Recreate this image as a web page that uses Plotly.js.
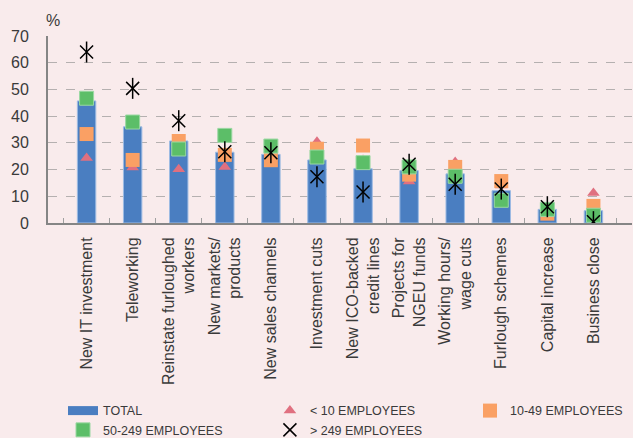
<!DOCTYPE html>
<html>
<head>
<meta charset="utf-8">
<script src="https://cdn.plot.ly/plotly-3.0.1.min.js"></script>
<style>html,body{margin:0;padding:0;background:#f9ebec;}#chart{width:633px;height:438px;}</style>
</head>
<body>
<div id="chart"></div>
<script>
const categories = [
  "New IT investment", "Teleworking", "Reinstate furloughed<br>workers", "New markets/<br>products",
  "New sales channels", "Investment cuts", "New ICO-backed<br>credit lines", "Projects for<br>NGEU funds",
  "Working hours/<br>wage cuts", "Furlough schemes", "Capital increase", "Business close"
];
const total      = [45.7, 36.0, 30.7, 26.5, 25.7, 23.6, 20.3, 19.6, 18.4, 12.1, 5.1, 4.6];
const lt10       = [24.3, 20.8, 20.1, 21.0, 22.5, 30.4, 23.6, 15.5, 22.8, 14.0, 4.0, 11.2];
const e10_49     = [33.3, 23.6, 30.7, 25.5, 23.5, 27.8, 29.0, 18.1, 21.0, 15.7, 3.5, 6.4];
const e50_249    = [46.7, 37.8, 27.7, 32.8, 28.8, 24.7, 22.6, 21.0, 17.5, 8.5, 5.1, 2.9];
const gt249      = [64.0, 50.4, 38.3, 26.7, 26.3, 17.3, 11.6, 22.0, 14.5, 12.7, 6.1, 0.5];
const yTicks     = [0, 10, 20, 30, 40, 50, 60, 70];

const font = "Liberation Sans, Arial, sans-serif";
const legendFont = {family: "Liberation Sans, Arial, sans-serif", size: 12.5, color: '#3a3a3a'};

const traces = [
  {type: 'bar', x: categories, y: total, name: 'TOTAL', legendgroup: 'total', showlegend: false,
   width: 0.4, marker: {color: '#4a7ec1', line: {color: '#9dbbe3', width: 1}}, hoverinfo: 'y'},
  {type: 'scatter', mode: 'lines', x: [categories[0]], y: [null], name: 'TOTAL', legendgroup: 'total',
   legend: 'legend', line: {color: '#4a7ec1', width: 9}, hoverinfo: 'skip'},
  {type: 'scatter', mode: 'markers', x: categories, y: lt10, name: '< 10 EMPLOYEES', legend: 'legend2',
   marker: {symbol: 'triangle-up', size: 11, color: '#e07080'}},
  {type: 'scatter', mode: 'markers', x: categories, y: e10_49, name: '10-49 EMPLOYEES', legend: 'legend3',
   marker: {symbol: 'square', size: 14, color: '#faa064'}},
  {type: 'scatter', mode: 'markers', x: categories, y: e50_249, name: '50-249 EMPLOYEES', legend: 'legend',
   marker: {symbol: 'square', size: 14, color: '#5cbe68', line: {color: '#9ad8a2', width: 1}}},
  {type: 'scatter', mode: 'markers', x: categories, y: gt249, name: '> 249 EMPLOYEES', legendgroup: 'big',
   legend: 'legend2', marker: {symbol: 'x-thin-open', size: 13, color: '#000', line: {color: '#000', width: 1.5}}},
  {type: 'scatter', mode: 'markers', x: categories, y: gt249, name: '> 249 EMPLOYEES', legendgroup: 'big', showlegend: false,
   marker: {symbol: 'line-ns-open', size: 15, color: '#000', line: {color: '#000', width: 1.5}}}
];

function legendAt(x) {
  return {orientation: 'v', x: x, xanchor: 'left', y: -0.925, yanchor: 'top',
          font: legendFont, bgcolor: 'rgba(0,0,0,0)', tracegroupgap: 0, traceorder: 'normal'};
}

const layout = {
  width: 633, height: 438,
  paper_bgcolor: '#f9ebec', plot_bgcolor: '#f9ebec',
  margin: {l: 48, r: 1, t: 36, b: 215, autoexpand: false},
  font: {family: font, size: 16, color: '#3a3a3a'},
  bargap: 0.6,
  xaxis: {
    type: 'category', tickangle: -90, tickfont: {size: 16, color: '#3a3a3a'},
    showline: true, linecolor: '#858585', linewidth: 2,
    ticks: 'inside', tickson: 'boundaries', ticklen: 5, tickcolor: '#a0a0a0', tickwidth: 1,
    showgrid: false, ticklabelstandoff: 6, automargin: false, fixedrange: true
  },
  yaxis: {
    range: [0, 70], tickvals: yTicks, ticktext: yTicks.map(String),
    showline: true, linecolor: '#858585', linewidth: 2,
    showgrid: true, gridcolor: '#b5b0b0', griddash: 'dash', gridwidth: 1,
    zeroline: false, ticks: '', ticklabelstandoff: 14,
    tickfont: {size: 16, color: '#3a3a3a'}, automargin: false, fixedrange: true
  },
  showlegend: true,
  legend: legendAt(0.0257),
  legend2: legendAt(0.380),
  legend3: legendAt(0.7226),
  annotations: [{
    text: '%', xref: 'paper', yref: 'paper', x: 0, y: 1, xanchor: 'left', yanchor: 'bottom',
    yshift: 5, xshift: -4, showarrow: false, font: {size: 16, color: '#3a3a3a'}
  }]
};

Plotly.newPlot('chart', traces, layout, {displayModeBar: false, staticPlot: true});
</script>
</body>
</html>
